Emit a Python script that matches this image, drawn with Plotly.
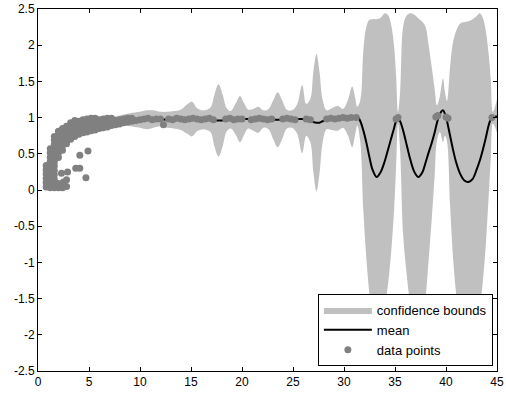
import plotly.graph_objects as go

# ---------------- data ----------------
# fitted model: x positions, mean and half-width of the confidence band
band_x = [0.8, 1.2, 1.6, 2.0, 2.5, 3.0, 4.0, 5.0, 6.0, 7.0, 8.0, 9.0,
          10.0, 10.7, 11.3, 12.0, 12.7, 13.3, 14.0, 14.6, 15.1, 15.6,
          16.2, 16.9, 17.3, 17.7, 18.1, 18.5, 18.9, 19.4, 19.8, 20.2,
          20.6, 21.1, 21.6, 22.1, 22.6, 23.1, 23.5, 23.9, 24.4, 24.9,
          25.4, 25.9, 26.3, 26.7, 27.0, 27.3, 27.6, 27.9, 28.3, 28.8,
          29.4, 29.9, 30.4, 30.8, 31.1,
          31.3, 31.6, 31.9, 32.2, 32.5, 32.8, 33.2, 33.6, 34.0, 34.3,
          34.6, 34.9, 35.1, 35.3, 35.5, 35.8, 36.1, 36.5, 36.9, 37.3,
          37.7, 38.0, 38.3, 38.6, 38.9, 39.1, 39.4, 39.7, 39.9, 40.1,
          40.4, 40.7, 41.0, 41.4, 41.8, 42.2, 42.6, 43.0, 43.3, 43.6,
          43.9, 44.2, 44.4, 44.6, 45.0]
band_mean = [0.20, 0.30, 0.42, 0.52, 0.62, 0.70, 0.82, 0.88, 0.92, 0.94, 0.96, 0.97,
             0.97, 0.97, 0.98, 0.98, 0.97, 0.97, 0.97, 0.98, 0.98, 0.97,
             0.97, 0.97, 0.96, 0.96, 0.96, 0.97, 0.97, 0.98, 0.98, 0.98,
             0.98, 0.97, 0.97, 0.98, 0.98, 0.97, 0.97, 0.97, 0.98, 0.98,
             0.98, 0.98, 0.97, 0.96, 0.94, 0.93, 0.93, 0.95, 0.97, 0.98,
             0.99, 0.99, 1.00, 1.01, 1.02,
             1.02, 0.95, 0.82, 0.65, 0.45, 0.28, 0.18, 0.25, 0.40, 0.55,
             0.70, 0.85, 0.95, 1.00, 0.95, 0.82, 0.65, 0.42, 0.25, 0.18,
             0.25, 0.38, 0.52, 0.65, 0.80, 0.92, 1.05, 1.10, 1.05, 0.95,
             0.75, 0.55, 0.38, 0.22, 0.13, 0.11, 0.15, 0.28, 0.40, 0.55,
             0.72, 0.90, 0.98, 1.00, 1.02]
band_halfwidth = [0.05, 0.05, 0.05, 0.05, 0.05, 0.05, 0.05, 0.05, 0.05, 0.06, 0.07, 0.09,
                  0.11, 0.13, 0.12, 0.10, 0.11, 0.12, 0.14, 0.20, 0.24, 0.16,
                  0.13, 0.17, 0.36, 0.50, 0.36, 0.16, 0.12, 0.22, 0.32, 0.22,
                  0.13, 0.15, 0.18, 0.12, 0.14, 0.28, 0.38, 0.28, 0.13, 0.12,
                  0.20, 0.47, 0.22, 0.30, 0.70, 0.95, 0.70, 0.30, 0.13, 0.15,
                  0.17, 0.13, 0.25, 0.42, 0.25,
                  0.13, 0.29, 1.11, 1.61, 1.90, 2.08, 2.18, 2.13, 2.04, 1.87,
                  1.60, 1.15, 0.65, 0.08, 0.40, 1.44, 1.75, 2.02, 2.17, 2.19,
                  2.07, 1.87, 1.48, 1.05, 0.58, 0.25, 0.25, 0.44, 0.30, 0.28,
                  0.95, 1.50, 1.82, 2.08, 2.19, 2.22, 2.21, 2.12, 2.04, 1.83,
                  1.48, 0.95, 0.52, 0.08, 0.23]

# observed data points
point_x = [
    0.8, 0.8, 0.8, 0.8, 0.8, 0.8,
    1.2, 1.2, 1.2, 1.2, 1.2, 1.2, 1.2, 1.2, 1.2, 1.2,
    1.6, 1.6, 1.6, 1.6, 1.6, 1.6, 1.6, 1.6, 1.6, 1.6, 1.6, 1.6, 1.6,
    2.0, 2.0, 2.0, 2.0, 2.0, 2.0, 2.0, 2.0, 2.0,
    2.4, 2.4, 2.4, 2.4, 2.4, 2.4, 2.4, 2.4,
    2.8, 2.8, 2.8, 2.8, 2.8, 2.8,
    3.2, 3.2, 3.2, 3.2, 3.2,
    3.6, 3.6, 3.6, 3.6, 3.6,
    4.0, 4.0, 4.0, 4.0,
    4.4, 4.4, 4.4, 4.4,
    4.8, 4.8, 4.8, 4.8,
    5.2, 5.2, 5.2, 5.2,
    5.6, 5.6, 5.6, 5.6,
    6.0, 6.0, 6.0,
    6.4, 6.4, 6.4,
    6.8, 6.8, 6.8,
    7.2, 7.2, 7.2,
    7.6, 7.6, 8.0, 8.0, 8.4, 8.4, 8.8, 8.8, 9.2, 9.2, 9.6, 10.0,
    4.9, 4.1, 4.7, 4.1, 3.7, 2.9, 2.3, 2.8, 2.5,
    10.4, 10.8, 11.2, 11.6, 12.0, 12.3,
    12.8, 13.2, 13.6, 14.0, 14.4, 14.8, 15.2,
    15.6, 16.0, 16.4, 16.8, 17.2,
    18.4, 18.8, 19.2, 19.6, 20.0,
    20.9, 21.3, 21.7, 22.1, 22.5, 22.9,
    24.0, 24.4, 24.8, 25.2,
    26.3, 26.7,
    28.3, 28.7, 29.1, 29.5, 29.9, 30.3, 30.7, 31.2,
    35.1, 35.3,
    39.0, 39.2, 40.0, 40.2,
    44.5,
]
point_y = [
    0.04, 0.10, 0.16, 0.22, 0.28, 0.34,
    0.03, 0.09, 0.15, 0.21, 0.27, 0.33, 0.39, 0.45, 0.51, 0.57,
    0.03, 0.09, 0.15, 0.21, 0.27, 0.33, 0.39, 0.45, 0.51, 0.57, 0.63, 0.69, 0.74,
    0.03, 0.09, 0.45, 0.51, 0.57, 0.63, 0.69, 0.75, 0.81,
    0.03, 0.09, 0.55, 0.61, 0.67, 0.73, 0.79, 0.85,
    0.05, 0.64, 0.70, 0.76, 0.82, 0.88,
    0.70, 0.76, 0.82, 0.88, 0.93,
    0.74, 0.80, 0.86, 0.92, 0.96,
    0.77, 0.83, 0.89, 0.95,
    0.79, 0.85, 0.91, 0.97,
    0.80, 0.86, 0.92, 0.98,
    0.82, 0.88, 0.94, 0.99,
    0.83, 0.89, 0.95, 0.99,
    0.85, 0.91, 0.97,
    0.86, 0.92, 0.98,
    0.87, 0.93, 0.99,
    0.89, 0.95, 0.99,
    0.90, 0.96, 0.91, 0.97, 0.93, 0.98, 0.94, 0.99, 0.95, 0.99, 0.96, 0.97,
    0.54, 0.48, 0.17, 0.30, 0.30, 0.25, 0.23, 0.14, 0.11,
    0.98, 0.99, 0.97, 0.98, 0.98, 0.90,
    0.98, 0.97, 0.99, 0.98, 0.97, 0.98, 0.99,
    0.98, 0.97, 0.98, 0.99, 0.97,
    0.98, 0.99, 0.97, 0.98, 0.98,
    0.97, 0.98, 0.99, 0.98, 0.97, 0.98,
    0.98, 0.99, 0.98, 0.97,
    0.98, 0.97,
    0.98, 0.99, 0.98, 0.99, 1.00, 0.99, 1.00, 1.00,
    0.98, 1.00,
    1.01, 1.03, 1.01, 0.99,
    1.00,
]

x_tick_vals = [0, 5, 10, 15, 20, 25, 30, 35, 40, 45]
x_tick_text = ["0", "5", "10", "15", "20", "25", "30", "35", "40", "45"]
y_tick_vals = [-2.5, -2, -1.5, -1, -0.5, 0, 0.5, 1, 1.5, 2, 2.5]
y_tick_text = ["-2.5", "-2", "-1.5", "-1", "-0.5", "0", "0.5", "1", "1.5", "2", "2.5"]

# ---------------- figure ----------------
upper = [m + h for m, h in zip(band_mean, band_halfwidth)]
lower = [m - h for m, h in zip(band_mean, band_halfwidth)]

BAND = "#c0c0c0"
PTS = "#808080"

fig = go.Figure()
fig.add_trace(go.Scatter(x=band_x, y=lower, mode="lines",
                         line=dict(width=0, color=BAND, shape="spline", smoothing=1),
                         showlegend=False, hoverinfo="skip"))
fig.add_trace(go.Scatter(x=band_x, y=upper, mode="lines", fill="tonexty", fillcolor=BAND,
                         line=dict(width=0, color=BAND, shape="spline", smoothing=1),
                         name="confidence bounds"))
fig.add_trace(go.Scatter(x=band_x, y=band_mean, mode="lines",
                         line=dict(width=2, color="black", shape="spline", smoothing=1),
                         name="mean"))
fig.add_trace(go.Scatter(x=point_x, y=point_y, mode="markers",
                         marker=dict(size=7, color=PTS, line=dict(width=0)),
                         name="data points"))

axis_common = dict(showline=True, linecolor="black", linewidth=1, mirror="ticks",
                   ticks="inside", ticklen=4, tickcolor="black", showgrid=False,
                   zeroline=False, automargin=False,
                   tickfont=dict(size=12, color="black"))

fig.update_layout(
    width=506, height=393,
    margin=dict(l=38, r=9, t=9, b=22),
    paper_bgcolor="white", plot_bgcolor="white",
    font=dict(family="Liberation Sans, Arial, sans-serif", size=12, color="black"),
    xaxis=dict(range=[0, 45], tickvals=x_tick_vals, ticktext=x_tick_text, **axis_common),
    yaxis=dict(range=[-2.5, 2.5], tickvals=y_tick_vals, ticktext=y_tick_text, **axis_common),
    legend=dict(x=0.991, y=0.014, xanchor="right", yanchor="bottom",
                bgcolor="white", bordercolor="black", borderwidth=1,
                traceorder="normal",
                font=dict(size=13), itemwidth=48, tracegroupgap=0),
    showlegend=True,
)

fig.write_html("out.html",
               config={"displayModeBar": False},
               post_script="document.body.style.margin='0';document.body.style.overflow='hidden';")
